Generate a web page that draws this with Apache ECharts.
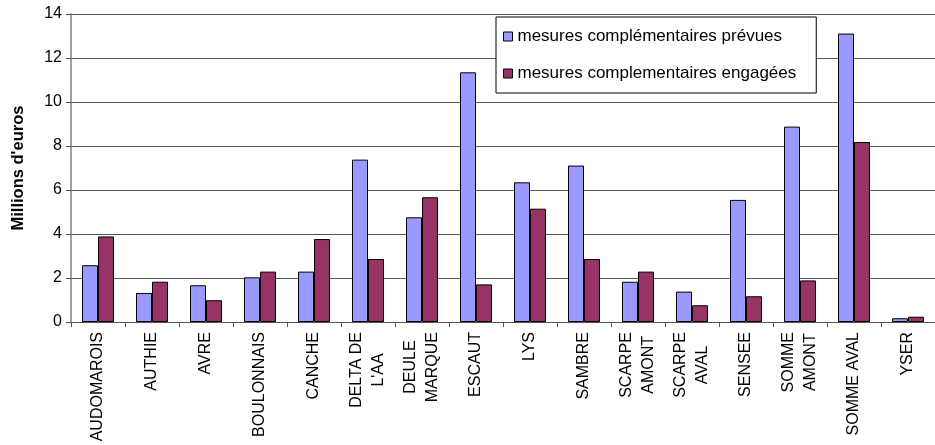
<!DOCTYPE html>
<html>
<head>
<meta charset="utf-8">
<script src="https://cdn.jsdelivr.net/npm/echarts@6/dist/echarts.min.js"></script>
<style>
  html, body { margin: 0; padding: 0; background: #fff; }
  #chart { width: 935px; height: 445px; }
</style>
</head>
<body>
<div id="chart"></div>
<script>
// Bassins versants
const categories = [
  'AUDOMAROIS', 'AUTHIE', 'AVRE', 'BOULONNAIS', 'CANCHE', 'DELTA DE\nL\'AA',
  'DEULE\nMARQUE', 'ESCAUT', 'LYS', 'SAMBRE', 'SCARPE\nAMONT', 'SCARPE\nAVAL',
  'SENSEE', 'SOMME\nAMONT', 'SOMME AVAL', 'YSER'
];

// Montants en millions d'euros
const prevues = [2.58, 1.32, 1.67, 2.03, 2.29, 7.38, 4.76, 11.35, 6.35, 7.11, 1.83, 1.38, 5.55, 8.88, 13.11, 0.17];
const engagees = [3.89, 1.83, 0.99, 2.29, 3.77, 2.86, 5.67, 1.71, 5.15, 2.86, 2.29, 0.76, 1.17, 1.89, 8.18, 0.24];

const seriesNames = [
  'mesures complémentaires prévues',
  'mesures complementaires engagées'
];

const yTicks = { min: 0, max: 14, interval: 2 };

const FONT = '"Liberation Sans", Arial, sans-serif';
const LABEL_SIZE = 16;
const LABEL_LINE = 22;
const GRID_COLOR = '#555555';
const AXIS_COLOR = '#808080';

// Each line of a multi-line category label is centred inside its block:
// shorter lines get equal padding on both sides up to the longest line.
const measureCtx = document.createElement('canvas').getContext('2d');
measureCtx.font = LABEL_SIZE + 'px ' + FONT;
const richStyles = {};
const labelText = {};
let styleCount = 0;
categories.forEach(function (cat) {
  const lines = cat.split('\n');
  const widths = lines.map(function (s) { return measureCtx.measureText(s).width; });
  const maxW = Math.max.apply(null, widths);
  labelText[cat] = lines.map(function (s, i) {
    const key = 'l' + (styleCount++);
    const pad = (maxW - widths[i]) / 2;
    richStyles[key] = {
      fontFamily: FONT, fontSize: LABEL_SIZE, lineHeight: LABEL_LINE, color: '#000',
      padding: [0, pad, 0, pad]
    };
    return '{' + key + '|' + s + '}';
  }).join('\n');
});

const chart = echarts.init(document.getElementById('chart'), null, { renderer: 'canvas' });

chart.setOption({
  animation: false,
  backgroundColor: '#ffffff',
  textStyle: { fontFamily: FONT, color: '#000' },
  grid: { left: 71, top: 14, width: 869, height: 308, containLabel: false },
  legend: {
    orient: 'vertical',
    left: 496,
    top: 17,
    padding: [11, 20, 11, 7],
    itemGap: 20,
    itemWidth: 9,
    itemHeight: 9,
    backgroundColor: '#ffffff',
    borderColor: '#000000',
    borderWidth: 1,
    textStyle: { fontFamily: FONT, fontSize: 17, color: '#000' },
    data: [
      { name: seriesNames[0], icon: 'rect', itemStyle: { color: '#9999FF', borderColor: '#000', borderWidth: 1 } },
      { name: seriesNames[1], icon: 'rect', itemStyle: { color: '#993366', borderColor: '#000', borderWidth: 1 } }
    ],
    z: 10
  },
  xAxis: {
    type: 'category',
    data: categories,
    axisLine: { show: true, lineStyle: { color: GRID_COLOR, width: 1 } },
    axisTick: { show: true, length: 5, alignWithLabel: false, lineStyle: { color: GRID_COLOR } },
    axisLabel: {
      interval: 0,
      rotate: 90,
      margin: 10,
      fontFamily: FONT,
      fontSize: LABEL_SIZE,
      lineHeight: LABEL_LINE,
      color: '#000',
      formatter: function (v) { return labelText[v]; },
      rich: richStyles
    }
  },
  yAxis: {
    type: 'value',
    min: yTicks.min,
    max: yTicks.max,
    interval: yTicks.interval,
    name: 'Millions d\'euros',
    nameLocation: 'middle',
    nameGap: 44,
    nameRotate: 90,
    nameTextStyle: { fontFamily: FONT, fontSize: 16.5, fontWeight: 'bold', color: '#000' },
    axisLine: { show: true, lineStyle: { color: AXIS_COLOR, width: 1.5 } },
    axisTick: { show: true, length: 5, lineStyle: { color: GRID_COLOR } },
    axisLabel: { margin: 9, fontFamily: FONT, fontSize: 16, color: '#000' },
    splitLine: { show: true, lineStyle: { color: GRID_COLOR, width: 1 } }
  },
  series: [
    {
      name: seriesNames[0],
      type: 'bar',
      data: prevues,
      barWidth: 16,
      barGap: '0%',
      itemStyle: { color: '#9999FF', borderColor: '#000', borderWidth: 1 }
    },
    {
      name: seriesNames[1],
      type: 'bar',
      data: engagees,
      barWidth: 16,
      barGap: '0%',
      itemStyle: { color: '#993366', borderColor: '#000', borderWidth: 1 }
    }
  ]
});
</script>
</body>
</html>
